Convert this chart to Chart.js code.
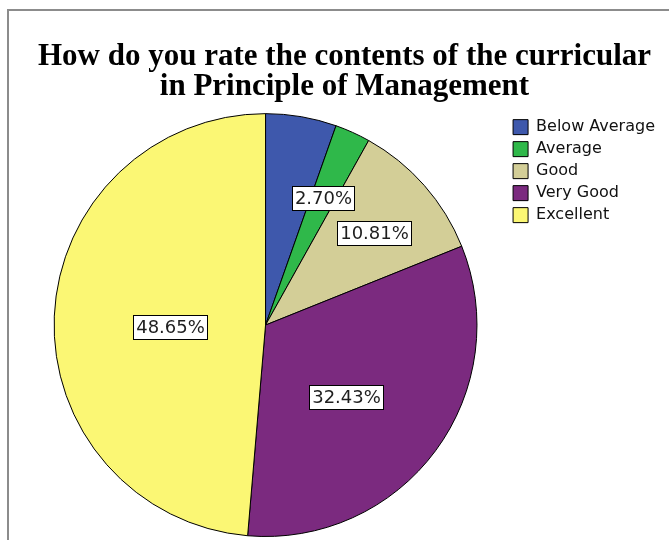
<!DOCTYPE html>
<html>
<head>
<meta charset="utf-8">
<script src="https://cdn.jsdelivr.net/npm/chart.js@4/dist/chart.umd.min.js"></script>
<style>
  html, body { margin: 0; padding: 0; background: #fff; }
  #wrap { position: relative; width: 669px; height: 540px; }
  #frame { position: absolute; left: 7px; top: 9px; width: 700px; height: 600px;
           border-left: 2px solid #8c8c8c; border-top: 2px solid #8c8c8c; box-sizing: border-box; }
  canvas { position: absolute; left: 0; top: 0; }
</style>
</head>
<body>
<div id="wrap">
  <div id="frame"></div>
  <canvas id="c" width="669" height="540"></canvas>
</div>
<script>
const titleLines = ["How do you rate the contents of the curricular", "in Principle of Management"];
const categories = ["Below Average", "Average", "Good", "Very Good", "Excellent"];
const percentages = [5.41, 2.70, 10.81, 32.43, 48.65];
const showLabel = [false, true, true, true, true];
const sliceColors = ["#3E58AC", "#2FB84A", "#D3CE97", "#7B2A7F", "#FBF774"];

// label placement style: fraction of radius and angular nudge (degrees)
const labelRadius = [0.5, 0.66, 0.675, 0.51, 0.45];
const labelNudge = [0, 0, 1, 5, -3.5];

const boxLabels = {
  id: 'boxLabels',
  afterDatasetsDraw(chart) {
    const ctx = chart.ctx;
    const meta = chart.getDatasetMeta(0);
    ctx.save();
    ctx.font = '18px "DejaVu Sans"';
    ctx.textAlign = 'center';
    ctx.textBaseline = 'middle';
    meta.data.forEach((arc, i) => {
      if (!showLabel[i]) return;
      const p = arc.getProps(['x', 'y', 'startAngle', 'endAngle', 'outerRadius'], true);
      const mid = (p.startAngle + p.endAngle) / 2 + labelNudge[i] * Math.PI / 180;
      const r = p.outerRadius * labelRadius[i];
      const cx = p.x + Math.cos(mid) * r;
      const cy = p.y + Math.sin(mid) * r;
      const txt = percentages[i].toFixed(2) + '%';
      const w = Math.round(ctx.measureText(txt).width + 5);
      const h = 24;
      const bx = Math.round(cx - w / 2) + 0.5, by = Math.round(cy - h / 2) + 0.5;
      ctx.fillStyle = '#ffffff';
      ctx.fillRect(bx, by, w, h);
      ctx.strokeStyle = '#000000';
      ctx.lineWidth = 1;
      ctx.strokeRect(bx, by, w, h);
      ctx.fillStyle = '#1e1e1e';
      ctx.fillText(txt, bx + w / 2, by + h / 2 + 1);
    });
    ctx.restore();
  }
};

new Chart(document.getElementById('c'), {
  type: 'pie',
  data: {
    labels: categories,
    datasets: [{
      data: percentages,
      backgroundColor: sliceColors,
      borderColor: '#000000',
      borderWidth: 1
    }]
  },
  options: {
    responsive: false,
    animation: false,
    layout: { padding: { left: 24, right: 4, top: 0, bottom: 3 } },
    plugins: {
      title: {
        display: true,
        text: titleLines,
        color: '#000',
        font: { family: '"Liberation Serif"', size: 31, weight: 'bold', lineHeight: 0.97 },
        padding: { top: 42, bottom: 11 }
      },
      legend: {
        display: true,
        position: 'right',
        align: 'start',
        fullSize: false,
        labels: {
          boxWidth: 15,
          boxHeight: 15,
          padding: 6,
          color: '#111',
          font: { family: '"DejaVu Sans"', size: 16 }
        }
      },
      tooltip: { enabled: false }
    }
  },
  plugins: [boxLabels]
});
</script>
</body>
</html>
